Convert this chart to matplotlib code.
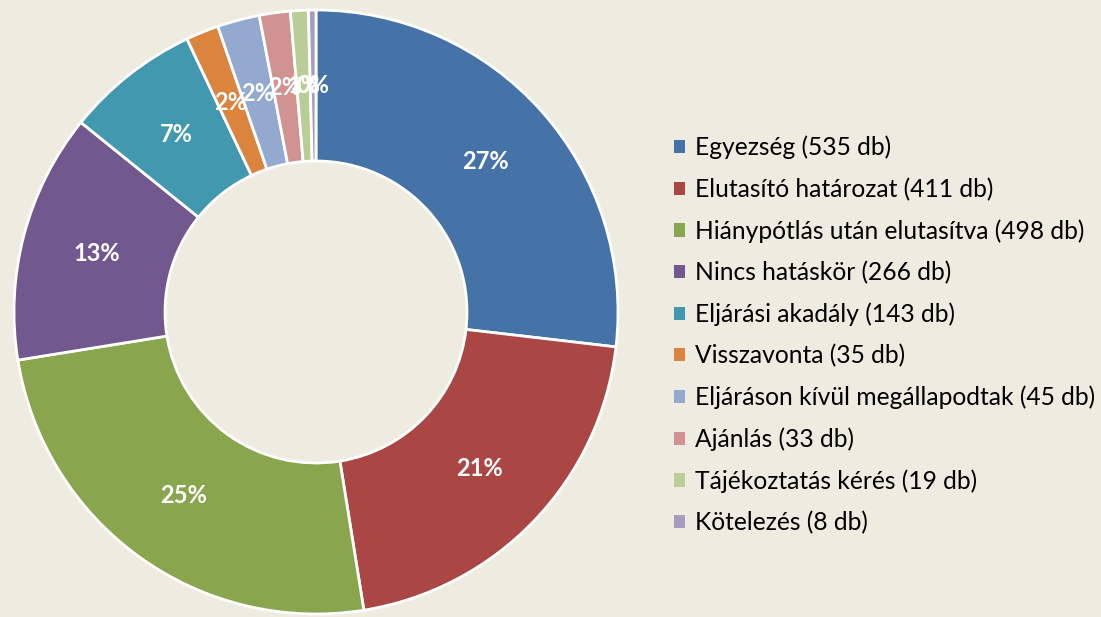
import matplotlib
matplotlib.use('Agg')
import matplotlib.pyplot as plt

labels = ['Egyezség', 'Elutasító határozat', 'Hiánypótlás után elutasítva',
          'Nincs hatáskör', 'Eljárási akadály', 'Visszavonta',
          'Eljáráson kívül megállapodtak', 'Ajánlás', 'Tájékoztatás kérés',
          'Kötelezés']
counts = [535, 411, 498, 266, 143, 35, 45, 33, 19, 8]
colors = ['#4572A7', '#AA4643', '#89A54E', '#71588F', '#4198AF',
          '#DB843D', '#93A9CF', '#D19392', '#B9CD96', '#A99BBD']

bg = '#EEEBE0'
plt.rcParams['font.family'] = ['Lato', 'DejaVu Sans']

fig = plt.figure(figsize=(11.01, 6.17), dpi=100, facecolor=bg)
ax = fig.add_axes([14 / 1101, 3 / 617, 604 / 1101, 604 / 617])
ax.set_facecolor(bg)

wedges, texts, autotexts = ax.pie(
    counts, colors=colors, startangle=90, counterclock=False,
    autopct='%1.0f%%', pctdistance=0.75, radius=1.0,
    wedgeprops=dict(width=0.5, edgecolor='white', linewidth=2),
    textprops=dict(color='white', fontsize=17, fontweight='bold'))
ax.set_xlim(-1, 1)
ax.set_ylim(-1, 1)
ax.set_aspect('equal')
ax.axis('off')

legend_labels = [f'{l} ({c} db)' for l, c in zip(labels, counts)]
fig.legend(wedges, legend_labels, loc='upper left',
           bbox_to_anchor=(664 / 1101, 1 - 126 / 617), frameon=False,
           fontsize=17.7, handlelength=0.45, handleheight=0.45,
           handletextpad=0.4, labelspacing=0.74, borderaxespad=0)
for h in fig.legends[0].legend_handles:
    h.set_linewidth(0)

fig.savefig('out.png', dpi=100, facecolor=bg)
